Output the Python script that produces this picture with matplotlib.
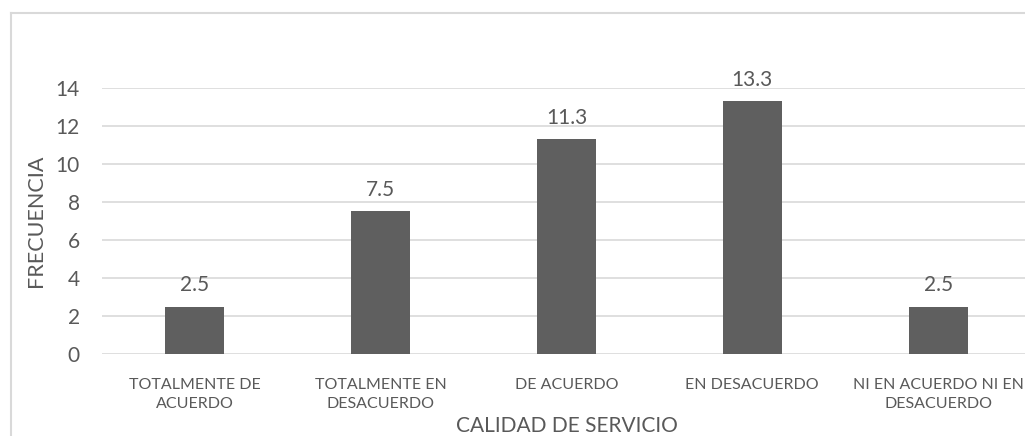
import matplotlib
matplotlib.use("Agg")
import matplotlib.pyplot as plt
from matplotlib.lines import Line2D

categories = ["TOTALMENTE DE\nACUERDO", "TOTALMENTE EN\nDESACUERDO", "DE ACUERDO",
              "EN DESACUERDO", "NI EN ACUERDO NI EN\nDESACUERDO"]
values = [2.5, 7.5, 11.3, 13.3, 2.5]
yticks = [0, 2, 4, 6, 8, 10, 12, 14]

plt.rcParams["font.family"] = ["Lato", "DejaVu Sans"]
text_color = "#595959"
grid_color = "#d9d9d9"

fig = plt.figure(figsize=(10.25, 4.36), dpi=100)
W, H = 1025, 436
# plot area in pixels: left 102, right ~1031, y=0 at 354, y=14 at 88
ax = fig.add_axes([102 / W, (H - 354) / H, (1031 - 102) / W, (354 - 88) / H])

x = range(len(categories))
ax.bar(x, values, width=0.318, color="#5f5f5f", zorder=3)
ax.set_xlim(-0.5, len(categories) - 0.5)
ax.set_ylim(0, 14)
ax.set_yticks(yticks)
ax.yaxis.grid(True, color=grid_color, linewidth=1.2, zorder=0)
for s in ax.spines.values():
    s.set_visible(False)
ax.tick_params(length=0)
ax.tick_params(axis="y", labelsize=15, labelcolor=text_color, pad=16)
ax.set_xticks(list(x))
ax.set_xticklabels(categories, fontsize=11.5, color=text_color, linespacing=1.45)
ax.tick_params(axis="x", pad=17)
ax.set_xlabel("CALIDAD DE SERVICIO", fontsize=15, color=text_color, labelpad=4)
ax.set_ylabel("FRECUENCIA", fontsize=15.5, color=text_color, labelpad=7)

for i, v in enumerate(values):
    ax.text(i, v + 0.6, f"{v:.1f}", ha="center", va="bottom", fontsize=15,
            color=text_color, clip_on=False)

# chart frame (left and top edges visible)
fig.add_artist(Line2D([11 / W, 11 / W], [0, 1 - 13 / H], color=grid_color, lw=1.5,
                      transform=fig.transFigure))
fig.add_artist(Line2D([11 / W, 1], [1 - 13 / H, 1 - 13 / H], color=grid_color, lw=1.5,
                      transform=fig.transFigure))

fig.savefig("out.png", dpi=100)
